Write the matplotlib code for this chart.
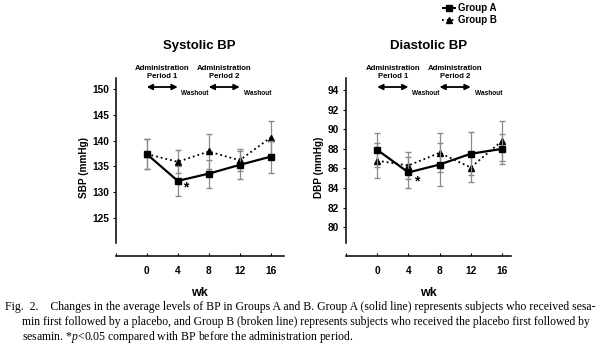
import matplotlib
matplotlib.use("Agg")
import matplotlib.pyplot as plt
import matplotlib.transforms as mtransforms

plt.rcParams['font.family'] = ['Liberation Sans', 'DejaVu Sans']
plt.rcParams['mathtext.fontset'] = 'custom'
plt.rcParams['mathtext.it'] = 'Liberation Serif:italic'
plt.rcParams['mathtext.rm'] = 'Liberation Serif'

# Datos
semanas = [0, 4, 8, 12, 16]
etiquetas_x = ['', '0', '4', '8', '12', '16']
ticks_x = [-4, 0, 4, 8, 12, 16]

sbp_a = [137.4, 132.2, 133.6, 135.3, 136.9]
sbp_a_err = [2.9, 2.9, 2.7, 2.7, 3.1]
sbp_b = [137.4, 135.9, 137.9, 136.2, 140.6]
sbp_b_err = [2.9, 2.2, 3.4, 2.1, 3.3]

dbp_a = [87.9, 85.6, 86.4, 87.5, 88.0]
dbp_a_err = [1.7, 1.6, 2.2, 2.2, 1.5]
dbp_b = [86.8, 86.3, 87.6, 86.1, 88.8]
dbp_b_err = [1.8, 1.4, 2.0, 1.5, 2.0]

sbp_ticks = [125, 130, 135, 140, 145, 150]
dbp_ticks = [80, 82, 84, 86, 88, 90, 92, 94]

caption = [
    "Fig.  2.    Changes in the average levels of BP in Groups A and B. Group A (solid line) represents subjects who received sesa-",
    "min first followed by a placebo, and Group B (broken line) represents subjects who received the placebo first followed by",
    "sesamin. *$p$<0.05 compared with BP before the administration period.",
]

fig = plt.figure(figsize=(6, 3.48), dpi=100)

ax1 = fig.add_axes([0.193, 0.264, 0.28, 0.511])
ax2 = fig.add_axes([0.576, 0.264, 0.276, 0.511])


def panel(ax, a, a_err, b, b_err, yt, ylim, ybounds, xlim, titulo, ylabel, star):
    ax.errorbar(semanas, b, yerr=b_err, color='black', ls=':', lw=1.3,
                marker='^', ms=5, ecolor='#8a8a8a', elinewidth=0.9, capsize=2.5, zorder=3)
    ax.errorbar(semanas, a, yerr=a_err, color='black', ls='-', lw=1.6,
                marker='s', ms=5, ecolor='#8a8a8a', elinewidth=0.9, capsize=2.5, zorder=4)
    ax.set_xlim(*xlim)
    ax.set_ylim(*ylim)
    ax.set_yticks(yt)
    ax.set_yticklabels([str(v) for v in yt], fontweight='bold', fontsize=7.3)
    ax.set_xticks(ticks_x)
    ax.set_xticklabels(etiquetas_x, fontweight='bold', fontsize=7.3)
    ax.spines['top'].set_visible(False)
    ax.spines['right'].set_visible(False)
    ax.spines['left'].set_bounds(*ybounds)
    ax.spines['left'].set_linewidth(1.1)
    ax.spines['bottom'].set_linewidth(1.1)
    ax.tick_params(axis='y', direction='out', length=2.5, width=0.8, pad=2)
    ax.tick_params(axis='x', direction='in', length=2.5, width=0.8, pad=7)
    ax.set_ylabel(ylabel, fontweight='bold', fontsize=7.2, labelpad=3)
    ax.set_xlabel('wk', fontweight='bold', fontsize=9, labelpad=8)
    ax.set_title(titulo, fontweight='bold', fontsize=9.5, pad=21)

    tr = mtransforms.blended_transform_factory(ax.transData, ax.transAxes)
    for x0, x1, lab in [(0, 4, 'Administration\nPeriod 1'), (8, 12, 'Administration\nPeriod 2')]:
        ax.annotate('', xy=(x0, 0.951), xytext=(x1, 0.951), xycoords=tr, textcoords=tr,
                    arrowprops=dict(arrowstyle='<|-|>', color='black', lw=1.3,
                                    mutation_scale=8, shrinkA=0, shrinkB=0),
                    annotation_clip=False)
        ax.text((x0 + x1) / 2, 1.031, lab, transform=tr, ha='center', va='center',
                fontsize=5.6, fontweight='bold', linespacing=1.2, clip_on=False)
    for xw in [6.2, 14.3]:
        ax.text(xw, 0.917, 'Washout', transform=tr, ha='center', va='center',
                fontsize=4.7, fontweight='bold', clip_on=False)
    ax.text(star[0], star[1], '*', ha='center', va='center', fontsize=10, fontweight='bold')


panel(ax1, sbp_a, sbp_a_err, sbp_b, sbp_b_err, sbp_ticks, (117.6, 152.1), (120.2, 152.1),
      (-4, 17.7), 'Systolic BP', 'SBP (mmHg)', (5.0, 131.0))
panel(ax2, dbp_a, dbp_a_err, dbp_b, dbp_b_err, dbp_ticks, (77.06, 95.2), (78.4, 95.2),
      (-4.06, 17.2), 'Diastolic BP', 'DBP (mmHg)', (5.1, 84.7))

# Leyenda manual
lax = fig.add_axes([0.736, 0.93, 0.024, 0.06])
lax.set_xlim(0, 1)
lax.set_ylim(0, 1)
lax.axis('off')
lax.plot([0.0, 1.0], [0.78, 0.78], color='black', lw=1.4)
lax.plot([0.5], [0.78], color='black', marker='s', ms=4.5)
lax.plot([0.0, 1.0], [0.22, 0.22], color='black', lw=1.3, ls=':')
lax.plot([0.5], [0.22], color='black', marker='^', ms=4.5)
fig.text(0.764, 0.977, 'Group A', fontsize=7, fontweight='bold', va='center')
fig.text(0.764, 0.943, 'Group B', fontsize=7, fontweight='bold', va='center')

# Pie de figura
fig.text(0.008, 1 - 307 / 348, caption[0], fontsize=8.5, family='Liberation Serif', va='center')
fig.text(0.037, 1 - 322 / 348, caption[1], fontsize=8.4, family='Liberation Serif', va='center')
fig.text(0.037, 1 - 337 / 348, caption[2], fontsize=8.5, family='Liberation Serif', va='center')

fig.savefig('out.png', dpi=100)
